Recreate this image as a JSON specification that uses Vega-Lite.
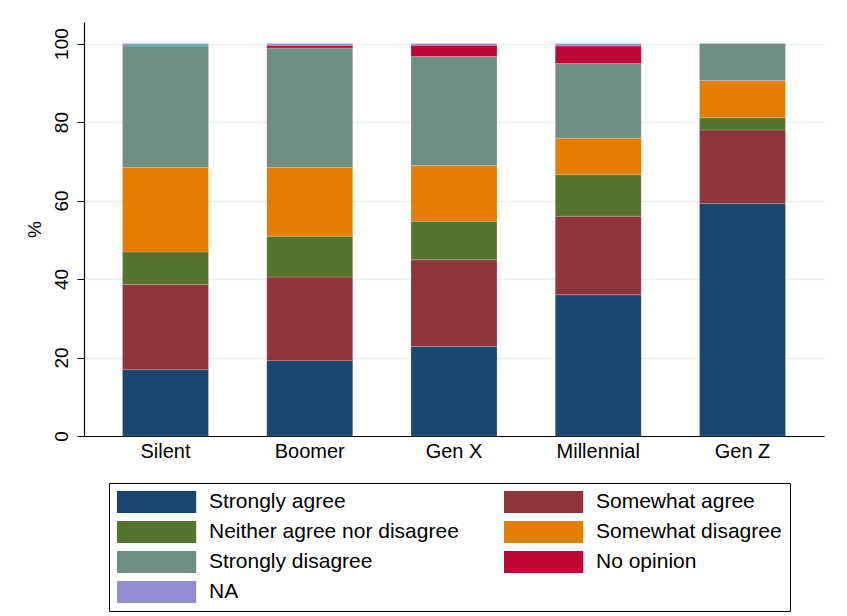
{
  "$schema": "https://vega.github.io/schema/vega-lite/v6.json",
  "width": 740,
  "height": 414,
  "autosize": {"type": "none"},
  "padding": {"left": 84, "top": 22, "right": 23, "bottom": 180},
  "background": "white",
  "config": {
    "view": {"stroke": null},
    "font": "Liberation Sans"
  },
  "data": {
    "values": [
      {"gen": "Silent", "resp": "Strongly agree", "k": 1, "pct": 16.9},
      {"gen": "Silent", "resp": "Somewhat agree", "k": 2, "pct": 21.7},
      {"gen": "Silent", "resp": "Neither agree nor disagree", "k": 3, "pct": 8.3},
      {"gen": "Silent", "resp": "Somewhat disagree", "k": 4, "pct": 21.5},
      {"gen": "Silent", "resp": "Strongly disagree", "k": 5, "pct": 31.0},
      {"gen": "Silent", "resp": "No opinion", "k": 6, "pct": 0.2},
      {"gen": "Silent", "resp": "NA", "k": 7, "pct": 0.4},
      {"gen": "Boomer", "resp": "Strongly agree", "k": 1, "pct": 19.2},
      {"gen": "Boomer", "resp": "Somewhat agree", "k": 2, "pct": 21.3},
      {"gen": "Boomer", "resp": "Neither agree nor disagree", "k": 3, "pct": 10.4},
      {"gen": "Boomer", "resp": "Somewhat disagree", "k": 4, "pct": 17.5},
      {"gen": "Boomer", "resp": "Strongly disagree", "k": 5, "pct": 30.5},
      {"gen": "Boomer", "resp": "No opinion", "k": 6, "pct": 0.7},
      {"gen": "Boomer", "resp": "NA", "k": 7, "pct": 0.4},
      {"gen": "Gen X", "resp": "Strongly agree", "k": 1, "pct": 22.8},
      {"gen": "Gen X", "resp": "Somewhat agree", "k": 2, "pct": 22.1},
      {"gen": "Gen X", "resp": "Neither agree nor disagree", "k": 3, "pct": 9.8},
      {"gen": "Gen X", "resp": "Somewhat disagree", "k": 4, "pct": 14.2},
      {"gen": "Gen X", "resp": "Strongly disagree", "k": 5, "pct": 27.8},
      {"gen": "Gen X", "resp": "No opinion", "k": 6, "pct": 2.9},
      {"gen": "Gen X", "resp": "NA", "k": 7, "pct": 0.4},
      {"gen": "Millennial", "resp": "Strongly agree", "k": 1, "pct": 36.0},
      {"gen": "Millennial", "resp": "Somewhat agree", "k": 2, "pct": 20.0},
      {"gen": "Millennial", "resp": "Neither agree nor disagree", "k": 3, "pct": 10.6},
      {"gen": "Millennial", "resp": "Somewhat disagree", "k": 4, "pct": 9.3},
      {"gen": "Millennial", "resp": "Strongly disagree", "k": 5, "pct": 19.0},
      {"gen": "Millennial", "resp": "No opinion", "k": 6, "pct": 4.5},
      {"gen": "Millennial", "resp": "NA", "k": 7, "pct": 0.6},
      {"gen": "Gen Z", "resp": "Strongly agree", "k": 1, "pct": 59.2},
      {"gen": "Gen Z", "resp": "Somewhat agree", "k": 2, "pct": 18.8},
      {"gen": "Gen Z", "resp": "Neither agree nor disagree", "k": 3, "pct": 3.1},
      {"gen": "Gen Z", "resp": "Somewhat disagree", "k": 4, "pct": 9.5},
      {"gen": "Gen Z", "resp": "Strongly disagree", "k": 5, "pct": 9.4}
    ]
  },
  "mark": {"type": "bar", "stroke": "white", "strokeWidth": 0.3, "strokeOpacity": 0.6},
  "encoding": {
    "x": {
      "field": "gen",
      "type": "nominal",
      "sort": ["Silent", "Boomer", "Gen X", "Millennial", "Gen Z"],
      "scale": {"paddingInner": 0.404, "paddingOuter": 0.267},
      "axis": {
        "title": null,
        "labelAngle": 0,
        "labelFontSize": 20,
        "labelColor": "#000",
        "labelPadding": 5,
        "ticks": false,
        "domainColor": "#000",
        "domainWidth": 1.2
      }
    },
    "y": {
      "field": "pct",
      "type": "quantitative",
      "stack": "zero",
      "scale": {"domain": [0, 105.5], "nice": false},
      "axis": {
        "title": "%",
        "titleFontSize": 19,
        "titleFontWeight": "normal",
        "titleColor": "#000",
        "titlePadding": 8,
        "values": [0, 20, 40, 60, 80, 100],
        "labelAngle": -90,
        "labelAlign": "center",
        "labelBaseline": "bottom",
        "labelFontSize": 19,
        "labelColor": "#000",
        "labelPadding": 6,
        "tickSize": 7,
        "tickColor": "#000",
        "domainColor": "#000",
        "domainWidth": 1.2,
        "gridColor": "#eaf2f3",
        "gridWidth": 1.5
      }
    },
    "color": {
      "field": "resp",
      "type": "nominal",
      "scale": {
        "domain": ["Strongly agree", "Somewhat agree", "Neither agree nor disagree", "Somewhat disagree", "Strongly disagree", "No opinion", "NA"],
        "range": ["#1a476f", "#90353b", "#55752f", "#e37e00", "#6e8e84", "#c10534", "#938dd2"]
      },
      "legend": {
        "title": null,
        "orient": "none",
        "legendX": 25,
        "legendY": 461,
        "direction": "horizontal",
        "columns": 2,
        "columnPadding": 45,
        "rowPadding": 8,
        "padding": 8,
        "strokeColor": "#000",
        "symbolType": "M-1,-1H6.2V1H-1Z",
        "symbolSize": 484,
        "symbolStrokeWidth": 0,
        "symbolOpacity": 1,
        "labelFontSize": 21,
        "labelColor": "#000",
        "labelOffset": 70,
        "labelLimit": 400
      }
    },
    "order": {"field": "k", "type": "quantitative"}
  }
}
